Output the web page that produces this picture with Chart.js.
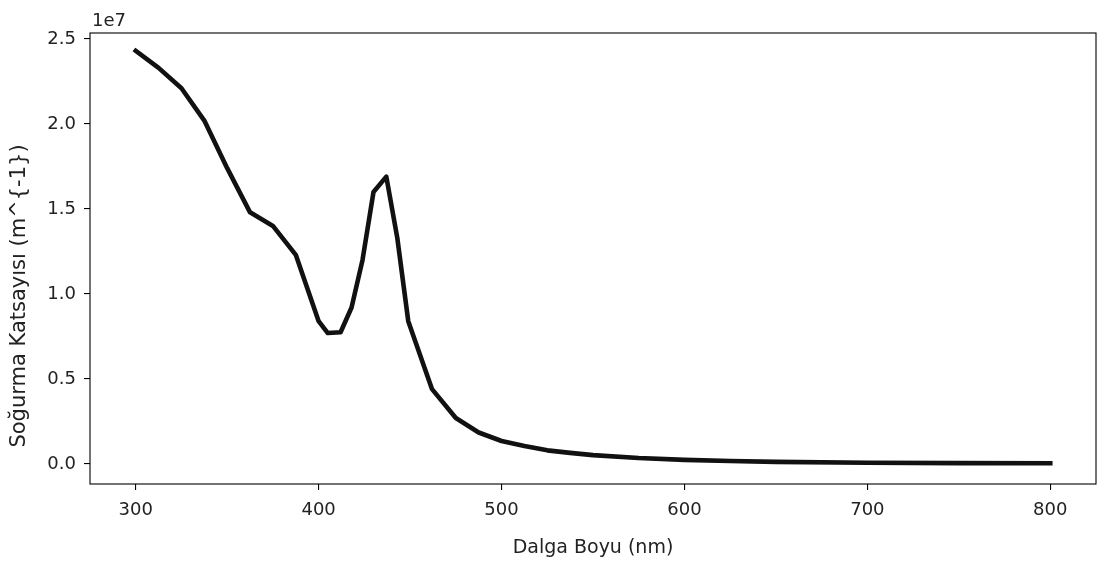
<!DOCTYPE html>
<html>
<head>
<meta charset="utf-8">
<script src="https://cdn.jsdelivr.net/npm/chart.js@4.4.1/dist/chart.umd.min.js"></script>
<style>
  html, body { margin: 0; padding: 0; background: #fff; }
</style>
</head>
<body>
<canvas id="myChart" width="1097" height="566"></canvas>
<script>
// Dalga boyu (nm) ve soğurma katsayısı (m^-1) değerleri
const wavelengths = [300, 312.5, 325, 337.5, 350, 362.5, 375, 387.5, 400, 405, 412, 418, 424, 430, 437,
  443, 449, 462, 475, 487.5, 500, 512.5, 525, 537.5, 550, 575, 600, 625, 650, 700, 750, 800];
const absorption = [2.43e7, 2.33e7, 2.21e7, 2.02e7, 1.74e7, 1.48e7, 1.40e7, 1.23e7, 0.84e7, 0.77e7, 0.775e7,
  0.92e7, 1.20e7, 1.60e7, 1.69e7, 1.33e7, 0.84e7, 0.44e7, 0.27e7, 0.185e7, 0.135e7, 0.105e7, 0.08e7,
  0.065e7, 0.052e7, 0.035e7, 0.024e7, 0.017e7, 0.012e7, 0.007e7, 0.005e7, 0.004e7];
const xTicks = [300, 400, 500, 600, 700, 800];
const yTicks = [0, 0.5e7, 1.0e7, 1.5e7, 2.0e7, 2.5e7];

const FONT = 'DejaVu Sans';
const ctx = document.getElementById('myChart').getContext('2d');

// Çerçeve, "1e7" ofset yazısı ve y ekseni başlığı
const frame = {
  id: 'frame',
  afterDraw(chart) {
    const { ctx, chartArea: a } = chart;
    ctx.save();
    ctx.strokeStyle = '#000';
    ctx.lineWidth = 1.1;
    ctx.strokeRect(a.left, a.top, a.right - a.left, a.bottom - a.top);
    ctx.fillStyle = '#222';
    ctx.font = '18px "' + FONT + '"';
    ctx.textAlign = 'left';
    ctx.textBaseline = 'alphabetic';
    ctx.fillText('1e7', a.left + 2, 26);
    ctx.font = '21px "' + FONT + '"';
    ctx.translate(20, 296);
    ctx.rotate(-Math.PI / 2);
    ctx.textAlign = 'center';
    ctx.textBaseline = 'middle';
    ctx.fillText('Soğurma Katsayısı (m^{-1})', 0, 0);
    ctx.restore();
  }
};

const myChart = new Chart(ctx, {
  type: 'line',
  data: {
    datasets: [{
      label: 'Soğurma',
      data: wavelengths.map((w, i) => ({ x: w, y: absorption[i] })),
      borderColor: '#111',
      borderWidth: 4.6,
      borderCapStyle: 'square',
      borderJoinStyle: 'round',
      pointRadius: 0,
      tension: 0,
      fill: false
    }]
  },
  options: {
    responsive: false,
    animation: false,
    layout: { padding: { top: 33, right: 1, left: 0, bottom: 0 } },
    plugins: { legend: { display: false }, tooltip: { enabled: false } },
    scales: {
      x: {
        type: 'linear',
        min: 275,
        max: 825,
        afterBuildTicks: s => { s.ticks = xTicks.map(v => ({ value: v })); },
        afterFit: s => { s.height = 82; },
        border: { display: false },
        grid: { drawOnChartArea: false, drawTicks: true, tickLength: 6, color: '#000', lineWidth: 1.1 },
        ticks: { color: '#222', font: { family: FONT, size: 18 }, padding: 10, maxRotation: 0,
          callback: v => String(v) },
        title: { display: true, text: 'Dalga Boyu (nm)', color: '#222',
          font: { family: FONT, size: 19 }, padding: { top: 0, bottom: 7 } }
      },
      y: {
        type: 'linear',
        min: -0.118e7,
        max: 2.535e7,
        afterBuildTicks: s => { s.ticks = yTicks.map(v => ({ value: v })); },
        afterFit: s => { s.width = 90; },
        border: { display: false },
        grid: { drawOnChartArea: false, drawTicks: true, tickLength: 6, color: '#000', lineWidth: 1.1 },
        ticks: { color: '#222', font: { family: FONT, size: 18 }, padding: 8,
          callback: v => (v / 1e7).toFixed(1) }
      }
    }
  },
  plugins: [frame]
});
</script>
</body>
</html>
